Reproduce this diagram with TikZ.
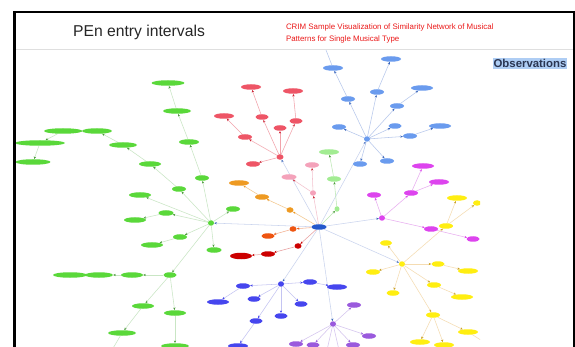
\documentclass[tikz,border=0pt]{standalone}
\usepackage{fontspec}
\setmainfont{Liberation Sans}
\usetikzlibrary{shapes.geometric,arrows.meta}
\pgfdeclarelayer{bg}
\pgfsetlayers{bg,main}
\definecolor{grn}{HTML}{5AD83A}\definecolor{grnL}{HTML}{C9E6C4}\definecolor{grnD}{HTML}{4A9A3A}
\definecolor{rd}{HTML}{EE5566}\definecolor{rdL}{HTML}{F2A2AA}\definecolor{rdD}{HTML}{CC2233}
\definecolor{bl}{HTML}{6A9BEE}\definecolor{blL}{HTML}{B7C8EC}\definecolor{blD}{HTML}{3A66BB}
\definecolor{cen}{HTML}{2358CC}\definecolor{cenL}{HTML}{CAD4EE}
\definecolor{org}{HTML}{EE9A22}\definecolor{orgL}{HTML}{F3C88E}
\definecolor{ored}{HTML}{EE5511}\definecolor{oredL}{HTML}{F3B090}
\definecolor{drd}{HTML}{CC0000}\definecolor{drdL}{HTML}{E8A0A0}
\definecolor{pnk}{HTML}{F4A2BA}\definecolor{pnkL}{HTML}{F3C2CE}
\definecolor{lgr}{HTML}{A2EC92}\definecolor{lgrL}{HTML}{BDE8B4}
\definecolor{mag}{HTML}{DD44EE}\definecolor{magL}{HTML}{E8AEF0}
\definecolor{yel}{HTML}{FFEE11}\definecolor{yelL}{HTML}{F5DCB2}\definecolor{yelD}{HTML}{C9A020}
\definecolor{mbl}{HTML}{4646EE}\definecolor{mblL}{HTML}{C4C4F2}
\definecolor{pur}{HTML}{9A5ADD}\definecolor{purL}{HTML}{D4C4EE}
\definecolor{hl}{HTML}{AECDF4}\definecolor{navy}{HTML}{2A3552}
\newcommand\mynode[4]{\node[#1,minimum width=#4pt] (#2) at (#3) {};}
\newcommand\myedges[2]{\foreach \a/\b in {#2} \draw[#1] (\a) -- (\b);}
\tikzset{
  nd/.style={ellipse, inner sep=0pt, minimum height=5.5pt},
  eg/.style={line width=0.55pt, draw=#1},
  tip/.style={-{Stealth[length=2.6pt,width=2.2pt,color=#1]}},
  Gn/.style={nd, fill=grn}, Ge/.style={eg=grnL, tip=grnD},
  Rn/.style={nd, fill=rd}, Re/.style={eg=rdL, tip=rdD},
  Bn/.style={nd, fill=bl}, Be/.style={eg=blL, tip=blD},
  Cn/.style={nd, fill=cen}, Ce/.style={eg=cenL, tip=blD},
  On/.style={nd, fill=org}, Oe/.style={eg=orgL, tip=org},
  Qn/.style={nd, fill=ored}, Qe/.style={eg=oredL, tip=ored},
  Dn/.style={nd, fill=drd}, De/.style={eg=drdL, tip=drd},
  Pn/.style={nd, fill=pnk}, Pe/.style={eg=pnkL, tip=rdD},
  Ln/.style={nd, fill=lgr}, Le/.style={eg=lgrL, tip=grnD},
  Mn/.style={nd, fill=mag}, Me/.style={eg=magL, tip=mag},
  Yn/.style={nd, fill=yel}, Ye/.style={eg=yelL, tip=yelD},
  Vn/.style={nd, fill=mbl}, Ve/.style={eg=mblL, tip=mbl},
  Un/.style={nd, fill=pur}, Ue/.style={eg=purL, tip=pur},
}
\begin{document}
\begin{tikzpicture}[x=1pt,y=-1pt]
\useasboundingbox (0,0) rectangle (575,347);
% header
\draw[gray!25, line width=0.6pt] (16,49) -- (573,49);
\node[font=\fontsize{15.7}{18}\selectfont, text=black!85] (title) at (139,32) {PEn entry intervals};
\node[font=\fontsize{7.9}{11.5}\selectfont, text={rgb,255:red,235;green,25;blue,25}, align=left, anchor=west] (sub) at (282.5,33.5) {CRIM Sample Visualization of Similarity Network of Musical\\Patterns for Single Musical Type};
\node[fill=hl, inner sep=1pt, font=\fontsize{11.4}{13}\bfseries\selectfont, text=navy] (obs) at (530,63.5) {Observations};
% graph
\begin{scope}
\clip (16,50) rectangle (480,347);
% green
\mynode{Gn}{ghub}{211,223}{6}
\mynode{Gn}{g1}{168,83}{33}
\mynode{Gn}{g2}{177,111}{28}
\mynode{Gn}{g3}{189,142}{20}
\mynode{Gn}{g4}{202,178}{14}
\mynode{Gn}{g5}{179,189}{14}
\mynode{Gn}{g6}{150,164}{22}
\mynode{Gn}{g7}{123,145}{28}
\mynode{Gn}{g8}{97,131}{30}
\mynode{Gn}{g9}{63,131}{38}
\mynode{Gn}{g10}{40,143}{50}
\mynode{Gn}{g11}{33,162}{35}
\mynode{Gn}{g12}{140,195}{22}
\mynode{Gn}{g13}{166,213}{15}
\mynode{Gn}{g14}{135,220}{22}
\mynode{Gn}{g15}{233,209}{14}
\mynode{Gn}{g16}{180,237}{14}
\mynode{Gn}{g17}{152,245}{22}
\mynode{Gn}{g18}{214,250}{15}
\mynode{Gn}{g19}{170,275}{13}
\mynode{Gn}{g20}{132,275}{22}
\mynode{Gn}{g21}{99,275}{28}
\mynode{Gn}{g22}{70,275}{34}
\mynode{Gn}{g23}{143,306}{22}
\mynode{Gn}{g24}{175,313}{22}
\mynode{Gn}{g25}{122,333}{28}
\mynode{Gn}{g26}{175,346}{28}
\coordinate (gout) at (112,350);
% central
\mynode{Cn}{c}{319,227}{15}
% red
\mynode{Rn}{rhub}{280,157}{7}
\mynode{Rn}{r1}{251,87}{20}
\mynode{Rn}{r2}{293,91}{20}
\mynode{Rn}{r3}{224,116}{20}
\mynode{Rn}{r4}{262,117}{13}
\mynode{Rn}{r5}{296,121}{13}
\mynode{Rn}{r6}{280,128}{13}
\mynode{Rn}{r7}{245,137}{14}
\mynode{Rn}{r8}{253,164}{14}
% blue top
\mynode{Bn}{bhub}{367,139}{6}
\mynode{Bn}{b1}{333,68}{20}
\mynode{Bn}{b2}{391,59}{20}
\mynode{Bn}{b3}{422,88}{22}
\mynode{Bn}{b4}{377,92}{14}
\mynode{Bn}{b5}{348,99}{14}
\mynode{Bn}{b6}{397,106}{14}
\mynode{Bn}{b7}{339,127}{14}
\mynode{Bn}{b8}{395,126}{13}
\mynode{Bn}{b9}{440,126}{22}
\mynode{Bn}{b10}{410,136}{14}
\mynode{Bn}{b11}{360,164}{14}
\mynode{Bn}{b12}{387,161}{14}
\coordinate (bout) at (326,50);
% orange, orange-red, dark red
\mynode{On}{o1}{290,210}{7}
\mynode{On}{o2}{262,197}{14}
\mynode{On}{o3}{239,183}{20}
\mynode{Qn}{q1}{293,229}{7}
\mynode{Qn}{q2}{268,236}{13}
\mynode{Dn}{d1}{298,246}{7}
\mynode{Dn}{d2}{268,254}{14}
\node[Dn, minimum width=22pt, minimum height=6.5pt] (d3) at (241,256) {};
% pink, light green
\mynode{Pn}{p1}{313,193}{6}
\mynode{Pn}{p2}{312,165}{14}
\mynode{Pn}{p3}{289,177}{15}
\mynode{Ln}{l1}{337,209}{5}
\mynode{Ln}{l2}{334,179}{14}
\mynode{Ln}{l3}{329,152}{20}
% magenta
\mynode{Mn}{mhub}{382,218}{6}
\mynode{Mn}{m1}{374,195}{14}
\mynode{Mn}{m2}{411,193}{14}
\mynode{Mn}{m3}{423,166}{22}
\mynode{Mn}{m4}{439,182}{20}
\mynode{Mn}{m5}{431,229}{14}
\mynode{Mn}{m6}{473,239}{13}
% yellow
\mynode{Yn}{yhub}{402,264}{6}
\mynode{Yn}{y1}{386,243}{12}
\mynode{Yn}{y2}{373,272}{14}
\mynode{Yn}{y3}{393,293}{13}
\mynode{Yn}{y4}{438,264}{13}
\mynode{Yn}{y5}{468,271}{20}
\mynode{Yn}{y6}{434,285}{14}
\mynode{Yn}{y7}{462,297}{22}
\mynode{Yn}{y8}{433,315}{14}
\mynode{Yn}{y9}{468,332}{20}
\mynode{Yn}{y10}{420,342}{20}
\mynode{Yn}{y11}{444,345}{20}
\mynode{Yn}{y12}{446,226}{14}
\mynode{Yn}{y13}{457,198}{20}
\mynode{Yn}{y14}{477,203}{8}
\coordinate (yout) at (484,342);
% medium blue
\mynode{Vn}{vhub}{281,284}{6}
\mynode{Vn}{v1}{243,286}{14}
\mynode{Vn}{v2}{218,302}{22}
\mynode{Vn}{v3}{254,299}{13}
\mynode{Vn}{v4}{301,304}{13}
\mynode{Vn}{v5}{281,316}{13}
\mynode{Vn}{v6}{256,321}{13}
\mynode{Vn}{v7}{238,346}{20}
\mynode{Vn}{v8}{310,282}{14}
\mynode{Vn}{v9}{337,287}{20}
% purple
\mynode{Un}{uhub}{333,324}{6}
\mynode{Un}{u1}{354,305}{14}
\mynode{Un}{u2}{369,336}{14}
\mynode{Un}{u3}{296,344}{14}
\mynode{Un}{u4}{313,345}{13}
\mynode{Un}{u5}{353,345}{14}
\coordinate (uo1) at (327,350);
\coordinate (uo2) at (339,350);
\end{scope}
\begin{pgfonlayer}{bg}
\fill[white] (0,0) rectangle (575,347);
\begin{scope}
\clip (16,50) rectangle (480,347);
\myedges{Ge}{ghub/g4,g4/g3,g3/g2,g2/g1,ghub/g5,g5/g6,g6/g7,g7/g8,g8/g9,g9/g10,g10/g11,ghub/g12,ghub/g13,g13/g14,ghub/g15,ghub/g16,g16/g17,ghub/g18,ghub/g19,g19/g20,g20/g21,g21/g22,g19/g23,g23/g25,g19/g24,g24/g26}
\draw[eg=grnL] (g25) -- (gout);
\myedges{Ce}{c/ghub,c/rhub,c/bhub,c/mhub,c/yhub,c/vhub,c/uhub}
\myedges{Re}{rhub/r8,rhub/r7,r7/r3,rhub/r6,rhub/r4,r4/r1,rhub/r5,r5/r2}
\myedges{Be}{bhub/b5,b5/b1,bhub/b4,b4/b2,bhub/b6,b6/b3,bhub/b7,bhub/b8,bhub/b10,b10/b9,bhub/b11,bhub/b12}
\draw[eg=blL] (bout) -- (b1);
\myedges{Oe}{c/o1,o1/o2,o2/o3}
\myedges{Qe}{c/q1,q1/q2}
\myedges{De}{c/d1,d1/d2,d2/d3}
\myedges{Pe}{c/p1,p1/p2,p1/p3}
\myedges{Le}{c/l1,l1/l2,l2/l3}
\myedges{Me}{mhub/m1,mhub/m2,m2/m3,m2/m4,mhub/m5,m5/m6}
\myedges{Ye}{yhub/y1,yhub/y2,yhub/y3,yhub/y4,y4/y5,yhub/y6,y6/y7,yhub/y8,y8/y9,y8/y10,y8/y11,yhub/y12,y12/y13,y12/y14}
\draw[eg=yelL] (y9) -- (yout);
\myedges{Ve}{vhub/v1,v1/v2,vhub/v3,vhub/v4,vhub/v5,vhub/v6,v6/v7,vhub/v8,v8/v9}
\myedges{Ue}{uhub/u1,uhub/u2,uhub/u3,uhub/u4,uhub/u5}
\draw[eg=purL] (uhub) -- (uo1);
\draw[eg=purL] (uhub) -- (uo2);
\end{scope}
\end{pgfonlayer}
% frame
\draw[black, line width=2.7pt] (14.3,347) -- (14.3,12);
\draw[black, line width=1.6pt] (13,11.8) -- (575,11.8);
\draw[black, line width=2pt] (574,11) -- (574,347);
\end{tikzpicture}
\end{document}
